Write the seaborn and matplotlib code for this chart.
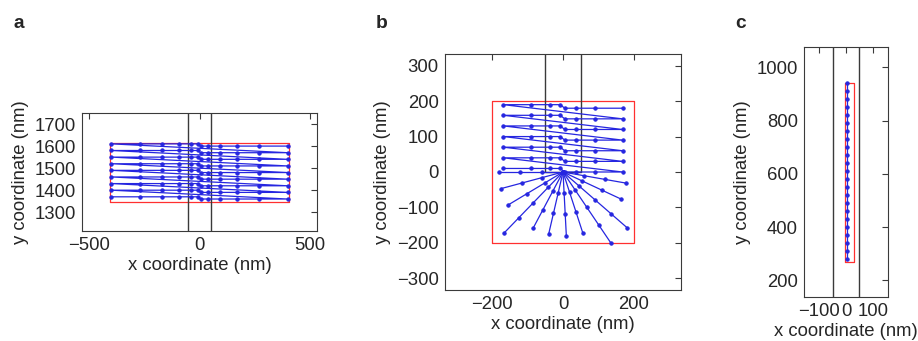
import numpy as np
import pandas as pd
import matplotlib
matplotlib.use("Agg")
import matplotlib.pyplot as plt
import seaborn as sns

# --- panel a: raster scan, each row = right half then left half ---
a_right_x = [400, 270, 170, 92, 40, 5]
a_left_x = [-8, -40, -92, -170, -270, -400]
a_right_y = [1600, 1570, 1540, 1510, 1480, 1450, 1420, 1390, 1360]
a_left_y = [1610, 1580, 1550, 1520, 1490, 1460, 1430, 1400, 1370]
a_box = [-405, 405, 1346, 1612]

# --- panel b: raster scan above the tip, fan of rays below it ---
b_right_x = [168, 91, 38, 5]
b_left_x = [-8, -36, -90, -168]
b_right_y = [180, 150, 120, 90, 60, 30, 0]
b_left_y = [190, 160, 130, 100, 70, 40, 10]
b_fan_angle = [180, 195, 211, 226, 242, 257, 273, 288, 304, 319, 335, 350]
b_fan_r = [
    [0, 60, 120, 180],
    [0, 60, 120, 180],
    [0, 60, 120, 180],
    [0, 60, 120, 180, 240],
    [0, 60, 120, 180],
    [0, 60, 120, 180],
    [0, 60, 120, 180],
    [0, 60, 120, 180],
    [0, 60, 120, 180, 240],
    [0, 60, 120, 180, 240],
    [0, 60, 120, 180],
    [0, 60, 120, 180],
]
b_box = [-200, 200, -200, 200]

# --- panel c: single column ---
c_x = 5
c_y = [940, 910, 880, 850, 820, 790, 760, 730, 700, 670, 640, 610,
       580, 550, 520, 490, 460, 430, 400, 370, 340, 310, 280]
c_box = [-5, 30, 270, 942]

channel_x = [-50, 50]

sns.set_style("white")
plt.rcParams["font.family"] = ["Liberation Sans", "DejaVu Sans"]
FS = 13.3
BLUE = "#2626e0"
RED = "#ff3030"
DARK = "#3a3a3a"


def raster(rx, lx, ry, ly):
    xs, ys = [], []
    for yr, yl in zip(ry, ly):
        xs += rx + lx
        ys += [yr] * len(rx) + [yl] * len(lx)
    return pd.DataFrame({"x": xs, "y": ys})


def style(ax, xlim, ylim, xt, yt):
    ax.set_xlim(xlim)
    ax.set_ylim(ylim)
    ax.set_xticks(xt)
    ax.set_yticks(yt)
    ax.tick_params(direction="in", top=True, right=True, length=4, width=0.8,
                   color=DARK, labelsize=FS, pad=4.5)
    for s in ax.spines.values():
        s.set_color(DARK)
        s.set_linewidth(0.8)
    ax.set_xlabel("x coordinate (nm)", fontsize=FS, labelpad=2)
    ax.set_ylabel("y coordinate (nm)", fontsize=FS, labelpad=4)


def box(ax, b):
    ax.plot([b[0], b[1], b[1], b[0], b[0]], [b[2], b[2], b[3], b[3], b[2]],
            color=RED, lw=0.9, zorder=1)


def path(ax, df, **kw):
    sns.lineplot(data=df, x="x", y="y", sort=False, estimator=None, ax=ax,
                 color=BLUE, lw=0.9, marker="o", markersize=2.4, mec=BLUE,
                 zorder=3, **kw)


W, H = 918, 341
fig = plt.figure(figsize=(W / 100, H / 100), dpi=100)


def px_axes(x0, x1, y0, y1):
    return fig.add_axes([x0 / W, 1 - y1 / H, (x1 - x0) / W, (y1 - y0) / H])


# panel a
ax = px_axes(82, 317, 113, 231)
box(ax, a_box)
for cx in channel_x:
    ax.axvline(cx, color=DARK, lw=1.0, zorder=2)
path(ax, raster(a_right_x, a_left_x, a_right_y, a_left_y))
style(ax, (-534, 534), (1215, 1750), [-500, 0, 500], [1300, 1400, 1500, 1600, 1700])

# panel b
ax = px_axes(445, 681, 54, 290)
box(ax, b_box)
ax.plot([channel_x[0], channel_x[0], channel_x[1], channel_x[1]], [340, 0, 0, 340],
        color=DARK, lw=1.0, zorder=2)
path(ax, raster(b_right_x, b_left_x, b_right_y, b_left_y))
rows = []
for k, (ang, rs) in enumerate(zip(b_fan_angle, b_fan_r)):
    t = np.deg2rad(ang)
    for r in rs:
        rows.append({"ray": k, "x": r * np.cos(t), "y": r * np.sin(t)})
path(ax, pd.DataFrame(rows), units="ray")
style(ax, (-333, 333), (-333, 333), [-200, 0, 200], [-300, -200, -100, 0, 100, 200, 300])

# panel c
ax = px_axes(804, 888, 47, 297)
box(ax, c_box)
for cx in channel_x:
    ax.axvline(cx, color=DARK, lw=1.0, zorder=2)
path(ax, pd.DataFrame({"x": [c_x] * len(c_y), "y": c_y}))
style(ax, (-157, 157), (137, 1077), [-100, 0, 100], [200, 400, 600, 800, 1000])

for letter, x in [("a", 13), ("b", 376), ("c", 735)]:
    fig.text(x / W, 1 - 28 / H, letter, fontsize=FS + 0.5, fontweight="bold",
             va="baseline", ha="left")

fig.savefig("out.png", dpi=100)
